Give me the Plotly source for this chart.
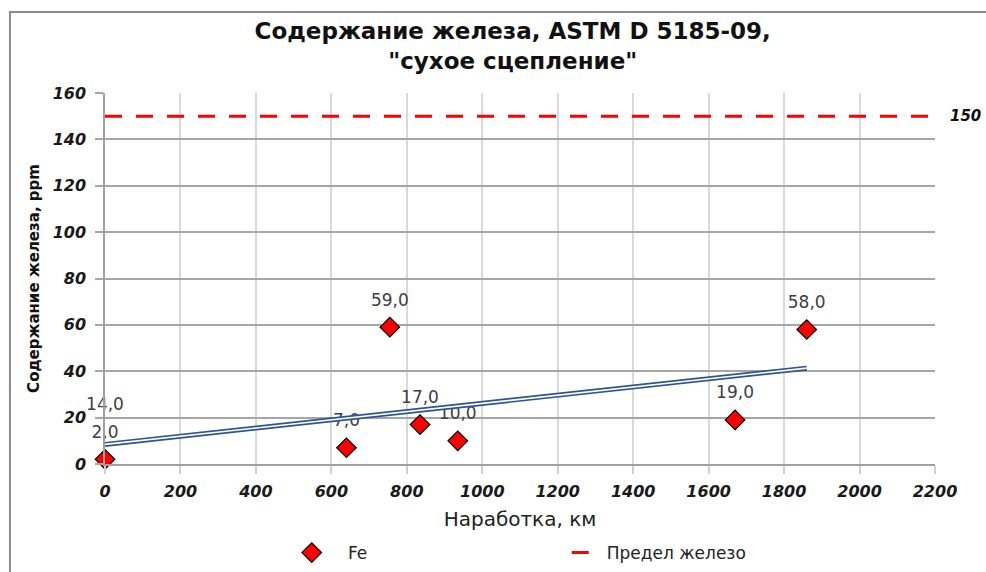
import numpy as np
import plotly.graph_objects as go

# ---- data ----
run_km = [0, 0, 640, 755, 835, 935, 1670, 1860]
fe_ppm = [2, 14, 7, 59, 17, 10, 19, 58]
hidden = [False, True, False, False, False, False, False, False]  # marker covered by a label in the original
limit_x = [0, 2200]
limit_y = [150, 150]
limit_value = 150
x_ticks = list(range(0, 2201, 200))
y_ticks = list(range(0, 161, 20))

labels = [f"{v:.1f}".replace(".", ",") for v in fe_ppm]

# linear trend through the Fe points
k, b = np.polyfit(run_km, fe_ppm, 1)
trend_x = [min(run_km), max(run_km)]
trend_y = [k * xv + b for xv in trend_x]

TREND = "#2D5590"
NBSP = "\u00a0"
fig = go.Figure()

# data labels (invisible big markers push the text up)
fig.add_trace(go.Scatter(
    x=run_km, y=fe_ppm, mode="markers+text", text=labels,
    textposition="top center", cliponaxis=False,
    textfont=dict(family="DejaVu Sans", size=17, color="#404040"),
    marker=dict(size=26, opacity=0), showlegend=False, hoverinfo="skip"))

# trend line (double line)
fig.add_trace(go.Scatter(x=trend_x, y=trend_y, mode="lines",
                         line=dict(color=TREND, width=5),
                         showlegend=False, hoverinfo="skip"))
fig.add_trace(go.Scatter(x=trend_x, y=trend_y, mode="lines",
                         line=dict(color="white", width=1.6),
                         showlegend=False, hoverinfo="skip"))

fig.add_trace(go.Scatter(
    x=run_km, y=fe_ppm, mode="markers", name=NBSP * 3 + "Fe", cliponaxis=False,
    marker=dict(symbol="diamond", size=15,
                color=["rgba(0,0,0,0)" if h else "#FF0000" for h in hidden],
                line=dict(width=1.2,
                          color=["rgba(0,0,0,0)" if h else "#000000" for h in hidden]))))

fig.add_trace(go.Scatter(
    x=limit_x, y=limit_y, mode="lines", name="Предел железо",
    line=dict(color="#FF0000", width=3, dash="17px,14px")))

tickfont = dict(family="DejaVu Sans", size=16, color="#1a1a1a",
                weight="bold", style="italic")

fig.update_xaxes(
    range=[0, 2200], tickvals=x_ticks, ticktext=[str(v) for v in x_ticks],
    showgrid=True, gridcolor="#D9D9D9", gridwidth=1.5,
    showline=True, linecolor="#A0A0A0", linewidth=1.5,
    ticks="outside", ticklen=8, tickcolor="#D0D0D0", tickwidth=1.5,
    tickfont=tickfont, ticklabelstandoff=4, zeroline=False, automargin=False,
    title=dict(text="Наработка, км", font=dict(family="DejaVu Sans", size=20, color="#222222"),
               standoff=12))
fig.update_yaxes(
    range=[0, 160], tickvals=y_ticks, ticktext=[str(v) for v in y_ticks],
    showgrid=True, gridcolor="#A6A6A6", gridwidth=1.5,
    showline=True, linecolor="#A0A0A0", linewidth=1.5,
    ticks="outside", ticklen=8, tickcolor="#A6A6A6", tickwidth=1.5,
    tickfont=tickfont, ticklabelstandoff=6, zeroline=False, automargin=False,
    title=dict(text="Содержание железа, ppm",
               font=dict(family="DejaVu Sans", size=15, color="#111111", weight="bold"),
               standoff=9))

fig.add_annotation(x=1, xref="paper", y=limit_value, yref="y", xanchor="left",
                   xshift=13, text=str(limit_value), showarrow=False,
                   font=dict(family="DejaVu Sans", size=15, color="#111111",
                             weight="bold", style="italic"))

# outer chart border
fig.add_shape(type="rect", xref="paper", yref="paper",
              x0=-0.1145, x1=1.2, y0=-0.5, y1=1.218,
              line=dict(color="#8C8C8C", width=2), fillcolor="rgba(0,0,0,0)")

fig.update_layout(
    width=986, height=572,
    margin=dict(l=105, r=51, t=93, b=108, autoexpand=False),
    paper_bgcolor="white", plot_bgcolor="white",
    title=dict(text="Содержание железа, ASTM D 5185-09,<br>\"сухое сцепление\"",
               x=0.52, xanchor="center", y=1 - 39 / 572, yanchor="middle",
               font=dict(family="DejaVu Sans", size=23, color="#111111", weight="bold")),
    legend=dict(orientation="h", x=0.225, xanchor="left", y=-0.24, yanchor="middle",
                entrywidth=230, entrywidthmode="pixels",
                font=dict(family="DejaVu Sans", size=17, color="#222222")),
    showlegend=True,
)

fig.write_html("out.html", config={"displayModeBar": False},
               post_script="document.body.style.margin='0';document.body.style.overflow='hidden';")
